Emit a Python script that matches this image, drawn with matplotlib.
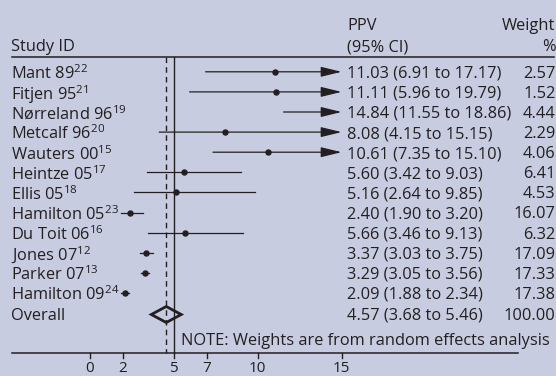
import matplotlib
matplotlib.use("Agg")
import matplotlib.pyplot as plt
import numpy as np

# ------------------------------------------------------------------
# Data
# ------------------------------------------------------------------
studies = ["Mant 89", "Fitjen 95", "Nørreland 96", "Metcalf 96", "Wauters 00",
           "Heintze 05", "Ellis 05", "Hamilton 05", "Du Toit 06", "Jones 07",
           "Parker 07", "Hamilton 09"]
refs = ["22", "21", "19", "20", "15", "17", "18", "23", "16", "12", "13", "24"]
ppv = [11.03, 11.11, 14.84, 8.08, 10.61, 5.60, 5.16, 2.40, 5.66, 3.37, 3.29, 2.09]
ci_low = [6.91, 5.96, 11.55, 4.15, 7.35, 3.42, 2.64, 1.90, 3.46, 3.03, 3.05, 1.88]
ci_high = [17.17, 19.79, 18.86, 15.15, 15.10, 9.03, 9.85, 3.20, 9.13, 3.75, 3.56, 2.34]
weights = [2.57, 1.52, 4.44, 2.29, 4.06, 6.41, 4.53, 16.07, 6.32, 17.09, 17.33, 17.38]

overall = (4.57, 3.68, 5.46)
overall_weight = 100.00
ref_line = 5
xticks = [0, 2, 5, 7, 10, 15]
x_clip = 15

# ------------------------------------------------------------------
# Style / layout
# ------------------------------------------------------------------
BG = "#c8cce1"
INK = "#231f20"
FONT = "Open Sans"
FS = 11.8

plt.rcParams["font.family"] = [FONT, "DejaVu Sans"]
plt.rcParams["mathtext.fontset"] = "custom"
plt.rcParams["mathtext.rm"] = FONT
plt.rcParams["mathtext.it"] = FONT + ":italic"

W, H = 556, 376
X0, SCALE = 89.5, 16.8          # pixel of value 0, pixels per unit


def px2x(px):
    return (px - X0) / SCALE


ROW0, ROWH = 71.8, 20.1
rows = ROW0 + ROWH * np.arange(len(studies))
y_overall = ROW0 + ROWH * len(studies) + 1.5
y_note = 339
y_head_line = 57
y_axis = 353
head_len = 1.0                  # arrowhead length in data units (hides points under it)

fig = plt.figure(figsize=(W / 100, H / 100), dpi=100, facecolor=BG)
ax = fig.add_axes([0, 0, 1, 1])
ax.set_facecolor(BG)
ax.set_xlim(px2x(0), px2x(W))
ax.set_ylim(H, 0)
ax.axis("off")

x_left = px2x(11)
x_ci = px2x(347)
x_right = px2x(555.5)


def txt(x, y, s, **kw):
    ax.text(x, y, s, fontsize=kw.pop("fontsize", FS), color=INK,
            va=kw.pop("va", "center_baseline"), **kw)


# headers
txt(x_left, 45, "Study ID")
txt(x_ci, 24, "PPV")
txt(x_ci, 45, "(95% CI)")
txt(x_right, 24, "Weight", ha="right")
txt(x_right, 45, "%", ha="right")
ax.plot([px2x(12), px2x(554)], [y_head_line, y_head_line], color=INK, lw=1.1)

# reference lines
ax.plot([ref_line, ref_line], [y_head_line, y_axis], color=INK, lw=1.0)
ax.plot([overall[0], overall[0]], [y_head_line, y_axis], color=INK, lw=1.0,
        ls=(0, (4, 3)))

# studies
for y, name, ref, est, lo, hi, w in zip(rows, studies, refs, ppv, ci_low, ci_high, weights):
    txt(x_left, y, f"{name}$^{{{ref}}}$")
    if hi > x_clip:
        ax.annotate("", xy=(x_clip, y), xytext=(lo, y), zorder=3,
                    arrowprops=dict(arrowstyle="-|>,head_length=1.15,head_width=0.28",
                                    color=INK, lw=0.9, shrinkA=0, shrinkB=0,
                                    mutation_scale=11))
    else:
        ax.plot([lo, hi], [y, y], color=INK, lw=0.9)
    if est < x_clip - head_len:
        ax.plot(est, y, "o", color=INK, ms=3.6, zorder=2)
    txt(x_ci, y, f"{est:.2f} ({lo:.2f} to {hi:.2f})")
    txt(x_right, y, f"{w:.2f}", ha="right")

# overall diamond
est, lo, hi = overall
ax.add_patch(plt.Polygon([[lo, y_overall], [est, y_overall - 8], [hi, y_overall], [est, y_overall + 8]],
                         closed=True, fill=False, ec=INK, lw=2.0, joinstyle="miter"))
txt(x_left, y_overall - 1, "Overall")
txt(x_ci, y_overall - 1, f"{est:.2f} ({lo:.2f} to {hi:.2f})")
txt(x_right, y_overall - 1, f"{overall_weight:.2f}", ha="right")

txt(px2x(181), y_note, "NOTE: Weights are from random effects analysis")

# x axis
ax.plot([px2x(12), px2x(518)], [y_axis, y_axis], color=INK, lw=1.1)
for t in xticks:
    ax.plot([t, t], [y_axis, y_axis + 5], color=INK, lw=1.0)
    txt(t, 371.5, str(t), ha="center", va="baseline", fontsize=11)

fig.savefig("out.png", dpi=100, facecolor=BG)
